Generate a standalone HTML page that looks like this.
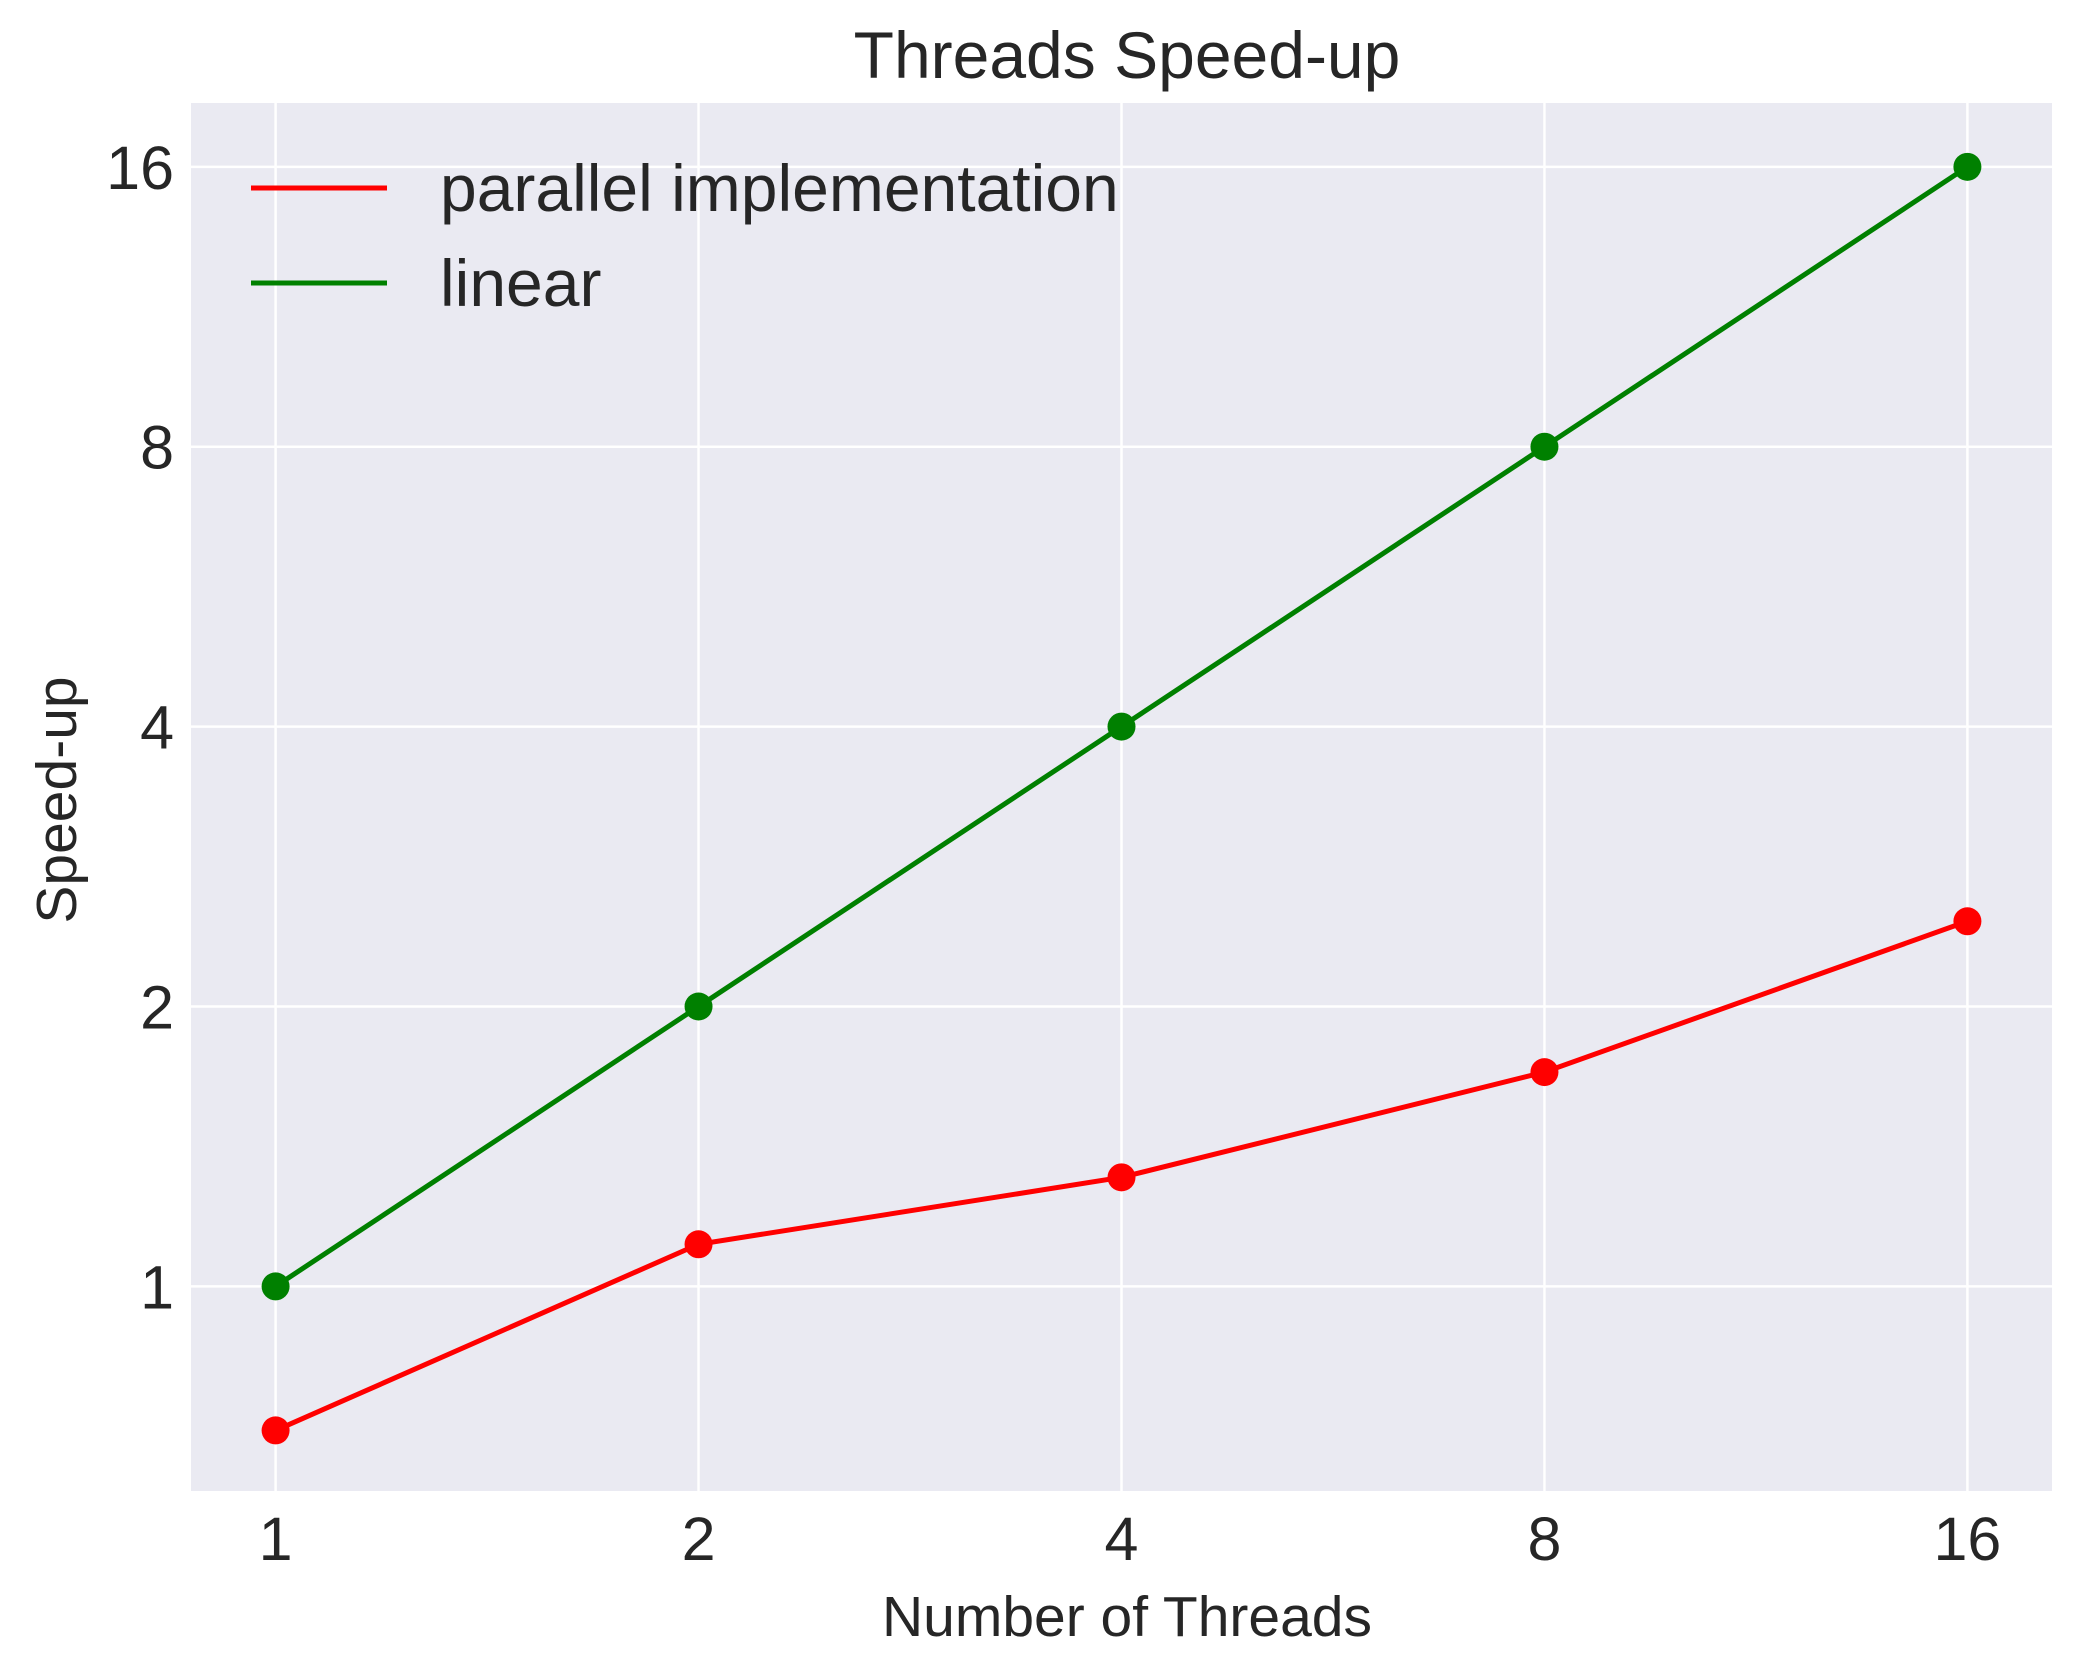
<!DOCTYPE html>
<html><head><meta charset="utf-8"><style>
body{margin:0;background:#fff}
svg text{font-family:"Liberation Sans",sans-serif;fill:#262626}
</style></head><body>
<svg width="2080" height="1667" xmlns="http://www.w3.org/2000/svg">
<rect x="191" y="103" width="1861" height="1388" fill="#eaeaf2"/>
<g id="grid"></g><g id="series"></g><g id="ticks"></g>
<text x="1127" y="78" font-size="66" text-anchor="middle">Threads Speed-up</text>
<text x="1127" y="1636" font-size="57" text-anchor="middle">Number of Threads</text>
<text x="0" y="0" font-size="57" text-anchor="middle" transform="translate(76,800) rotate(-90)">Speed-up</text>
<g>
<line x1="251" y1="188" x2="387" y2="188" stroke="#ff0000" stroke-width="5"/>
<text x="440" y="211" font-size="66">parallel implementation</text>
<line x1="251" y1="283" x2="387" y2="283" stroke="#008000" stroke-width="5"/>
<text x="440" y="306" font-size="66">linear</text>
</g>
</svg>
<script>
const threads=[1,2,4,8,16];
const parallelSpeedup=[0.70,1.11,1.31,1.70,2.47];
const linearSpeedup=[1,2,4,8,16];
const xTicks=[1,2,4,8,16];
const yTicks=[1,2,4,8,16];
const NS="http://www.w3.org/2000/svg";
const L=191,R=2052,T=103,B=1491;
const xMin=-0.2,xMax=4.2,yMin=-0.731,yMax=4.228;
function xs(v){return L+(Math.log2(v)-xMin)/(xMax-xMin)*(R-L);}
function ys(v){return B-(Math.log2(v)-yMin)/(yMax-yMin)*(B-T);}
function mk(tag,attrs,parent){const e=document.createElementNS(NS,tag);for(const k in attrs)e.setAttribute(k,attrs[k]);document.getElementById(parent).appendChild(e);return e;}
xTicks.forEach(v=>{
 const g=mk('line',{x1:xs(v),x2:xs(v),y1:T,y2:B,stroke:'#fff','stroke-width':2.5},'grid');
 
 
 const t=mk('text',{x:xs(v),y:1560,'font-size':61,'text-anchor':'middle'},'ticks');
 t.textContent=v;
 
 
});
yTicks.forEach(v=>{
 const g=mk('line',{x1:L,x2:R,y1:ys(v),y2:ys(v),stroke:'#fff','stroke-width':2.5},'grid');
 
 
 const t=mk('text',{x:174,y:ys(v)+22,'font-size':61,'text-anchor':'end'},'ticks');
 t.textContent=v;
 
 
});
function series(vals,color,name){
 const p=mk('polyline',{points:vals.map((v,i)=>xs(threads[i])+','+ys(v)).join(' '),fill:'none',stroke:color,'stroke-width':5},'series');
 
 
 vals.forEach((v,i)=>{
  const c=mk('circle',{cx:xs(threads[i]),cy:ys(v),r:14,fill:color},'series');
  
  
 });
}
series(linearSpeedup,'#008000','linear');
series(parallelSpeedup,'#ff0000','parallel');
</script>
</body></html>
